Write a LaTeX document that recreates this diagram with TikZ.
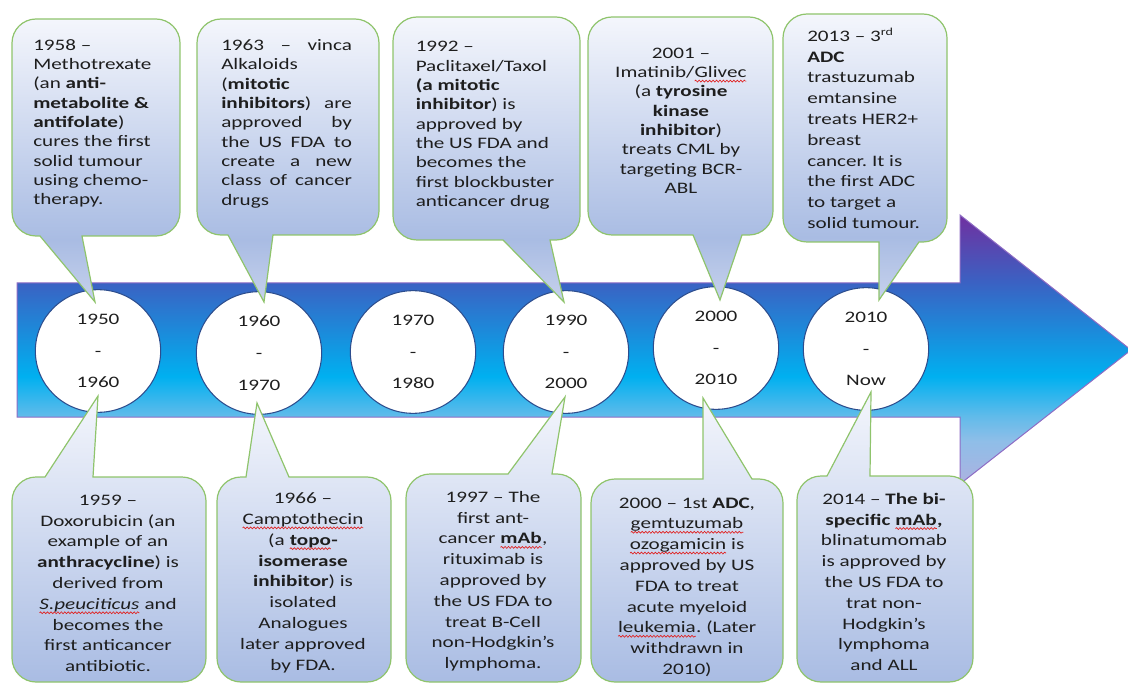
\documentclass[tikz,border=0pt]{standalone}
\usepackage{fontspec}
\setmainfont{Carlito}[FakeStretch=1.32]
\frenchspacing
\usetikzlibrary{shapes.geometric,decorations.pathmorphing}

% colours
\definecolor{arrA}{HTML}{ACB2E0}
\definecolor{arrB}{HTML}{8FBEE8}
\definecolor{arrC}{HTML}{62BBEA}
\definecolor{arrD}{HTML}{00B0F0}
\definecolor{arrE}{HTML}{3A62C3}
\definecolor{arrF}{HTML}{7030A0}
\definecolor{arrline}{HTML}{8E6CC4}
\definecolor{ringline}{HTML}{2C4D8E}
\definecolor{boxline}{HTML}{8FC46C}
\definecolor{boxtop}{HTML}{F4F6FC}
\definecolor{boxlow}{HTML}{A9BCE3}
\definecolor{boxtip}{HTML}{C6D1EC}
\definecolor{ink}{HTML}{1E1E1E}
\definecolor{spell}{HTML}{E02020}

% shadings
\pgfdeclareverticalshading{timeband}{100bp}{color(0bp)=(arrA); color(25bp)=(arrA);
  color(33bp)=(arrB); color(37.5bp)=(arrC); color(45bp)=(arrD); color(62.4bp)=(arrE);
  color(75bp)=(arrF); color(100bp)=(arrF)}
\pgfdeclareverticalshading{upnote}{100bp}{color(0bp)=(boxtip); color(25bp)=(boxtip);
  color(36bp)=(boxlow); color(75bp)=(boxtop); color(100bp)=(boxtop)}
\pgfdeclareverticalshading{downnote}{100bp}{color(0bp)=(boxlow); color(25bp)=(boxlow);
  color(75bp)=(boxtop); color(100bp)=(boxtop)}

% word with a wavy red underline
\newcommand\sqw[1]{\tikz[baseline=(w.base)]{\node[inner sep=0pt, outer sep=0pt] (w) {#1};
  \draw[spell, line width=0.5pt, decorate, decoration={snake, amplitude=0.7pt, segment length=2.6pt}]
    ([yshift=-2.6pt]w.base west) -- ([yshift=-2.6pt]w.base east);}}

% justified line
\newcommand\jl[1]{\makebox[98pt][s]{#1}}
\newcommand\st{\rule{0pt}{10pt}}

% callout with pointer below: L T R B baseleft baseright tipx tipy (corner radius 24)
\newcommand\upnote[8]{%
  \shadedraw[notebox, shading=upnote]
    ({#1+24},#2) -- ({#3-24},#2) .. controls ({#3-10.8},#2) and (#3,{#2+10.8}) .. (#3,{#2+24})
    -- (#3,{#4-24}) .. controls (#3,{#4-10.8}) and ({#3-10.8},#4) .. ({#3-24},#4)
    -- (#6,#4) -- (#7,#8) -- (#5,#4)
    -- ({#1+24},#4) .. controls ({#1+10.8},#4) and (#1,{#4-10.8}) .. (#1,{#4-24})
    -- (#1,{#2+24}) .. controls (#1,{#2+10.8}) and ({#1+10.8},#2) .. ({#1+24},#2) -- cycle;}
% callout with pointer above: L T R B baseleft baseright tipx tipy
\newcommand\downnote[8]{%
  \shadedraw[notebox, shading=downnote]
    ({#1+24},#2) -- (#5,#2) -- (#7,#8) -- (#6,#2)
    -- ({#3-24},#2) .. controls ({#3-10.8},#2) and (#3,{#2+10.8}) .. (#3,{#2+24})
    -- (#3,{#4-24}) .. controls (#3,{#4-10.8}) and ({#3-10.8},#4) .. ({#3-24},#4)
    -- ({#1+24},#4) .. controls ({#1+10.8},#4) and (#1,{#4-10.8}) .. (#1,{#4-24})
    -- (#1,{#2+24}) .. controls (#1,{#2+10.8}) and ({#1+10.8},#2) .. ({#1+24},#2) -- cycle;}

\tikzset{
  notebox/.style={draw=boxline, line width=0.9pt},
  ring/.style={ellipse, draw=ringline, line width=0.8pt, fill=white,
    minimum width=94pt, minimum height=92pt, inner sep=0pt, align=center,
    text=ink, font=\fontsize{12}{23.8}\selectfont},
  tighttxt/.style={inner sep=0pt, text=ink, font=\fontsize{12}{14.5}\selectfont},
  loosetxt/.style={inner sep=0pt, text=ink, font=\fontsize{12}{15.6}\selectfont},
}

\begin{document}
\begin{tikzpicture}[x=0.75pt, y=-0.75pt]
\useasboundingbox (0,0) rectangle (1128,684);
\clip (0,0) rectangle (1128,684);

% timeline arrow
\shadedraw[shading=timeband, draw=arrline, line width=0.75pt]
  (17,283) -- (960,283) -- (960,215) -- (1131,350) -- (960,484) -- (960,417) -- (17,417) -- cycle;

% decades
\node[ring] (d50) at (98,351)  {1950\\-\\1960};
\node[ring] (d60) at (259,353) {1960\\-\\1970};
\node[ring] (d70) at (413,352) {1970\\-\\1980};
\node[ring] (d90) at (566,352) {1990\\-\\2000};
\node[ring] (d00) at (716,348) {2000\\-\\2010};
\node[ring] (d10) at (866,349) {2010\\-\\Now};

% callouts above the line
\upnote{12}{19}{180}{236}{40}{82}{95}{302}
\upnote{197}{19}{379}{235}{228}{273}{264}{302}
\upnote{393}{17}{580}{240}{503}{550}{564}{302}
\upnote{588}{17}{773}{235}{693}{742}{720}{300}
\upnote{783}{14}{947}{242}{879}{919}{879}{300}

% callouts below the line
\downnote{12}{477}{206}{682}{45}{93}{98}{396}
\downnote{217}{477}{391}{682}{246}{289}{257}{403}
\downnote{406}{474}{581}{682}{508}{552}{565}{397}
\downnote{591}{479}{783}{682}{703}{752}{703}{398}
\downnote{797}{476}{973}{682}{827}{870}{871}{392}

% texts above
\node[tighttxt, anchor=north west, align=left] (n58) at (33,36.7)
  {\st 1958 –\\Methotrexate\\(an \textbf{anti-}\\\textbf{metabolite \&}\\\textbf{antifolate})\\cures the first\\solid tumour\\using chemo-\\therapy.};
\node[tighttxt, anchor=north west, align=left] (n63) at (221,37)
  {\st\jl{1963 – vinca}\\Alkaloids\\(\textbf{mitotic}\\\jl{\textbf{inhibitors}) are}\\\jl{approved by}\\\jl{the US FDA to}\\\jl{create a new}\\\jl{class of cancer}\\drugs};
\node[tighttxt, anchor=north west, align=left] (n92) at (415.5,38.4)
  {\st 1992 –\\Paclitaxel/Taxol\\\textbf{(a mitotic}\\\textbf{inhibitor}) is\\approved by\\the US FDA and\\becomes the\\first blockbuster\\anticancer drug};
\node[tighttxt, anchor=north, align=center] (n01) at (681,44.7)
  {\st 2001 –\\Imatinib/\sqw{Glivec}\\(a \textbf{tyrosine}\\\textbf{kinase}\\\textbf{inhibitor})\\treats CML by\\targeting BCR-\\ABL};
\node[loosetxt, anchor=north west, align=left] (n13) at (807,27.7)
  {\st 2013 – 3\textsuperscript{rd}\\\textbf{ADC}\\trastuzumab\\emtansine\\treats HER2+\\breast\\cancer. It is\\the first ADC\\to target a\\solid tumour.};

% texts below
\node[loosetxt, anchor=north, align=center] (n59) at (108,491.7)
  {\st 1959 –\\Doxorubicin (an\\example of an\\\textbf{anthracycline}) is\\derived from\\\sqw{\textit{S.peuciticus}} and\\becomes the\\first anticancer\\antibiotic.};
\node[loosetxt, anchor=north, align=center] (n66) at (303,490)
  {\st 1966 –\\\sqw{Camptothecin}\\(a \sqw{\textbf{topo}}\textbf{-}\\\textbf{isomerase}\\\textbf{inhibitor}) is\\isolated\\Analogues\\later approved\\by FDA.};
\node[loosetxt, anchor=north, align=center] (n97) at (493,488.7)
  {\st 1997 – The\\first ant-\\cancer \sqw{\textbf{mAb}},\\rituximab is\\approved by\\the US FDA to\\treat B-Cell\\non-Hodgkin’s\\lymphoma.};
\node[loosetxt, anchor=north, align=center] (n00) at (687,494.4)
  {\st 2000 – 1st \textbf{ADC},\\\sqw{gemtuzumab}\\\sqw{ozogamicin} is\\approved by US\\FDA to treat\\acute myeloid\\\sqw{leukemia}. (Later\\withdrawn in\\2010)};
\node[loosetxt, anchor=north, align=center] (n14) at (884,490.7)
  {\st 2014 – \textbf{The bi-}\\\textbf{specific \sqw{mAb},}\\blinatumomab\\is approved by\\the US FDA to\\trat non-\\Hodgkin’s\\lymphoma\\and ALL};
\end{tikzpicture}
\end{document}
